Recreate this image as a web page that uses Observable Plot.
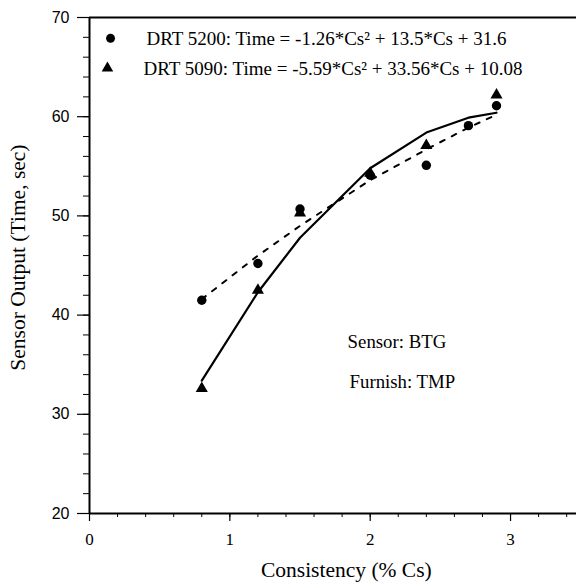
<!DOCTYPE html>
<html><head><meta charset="utf-8">
<script src="https://cdn.jsdelivr.net/npm/d3@7"></script>
<script src="https://cdn.jsdelivr.net/npm/@observablehq/plot@0.6"></script>
<style>body{margin:0;background:#fff}</style>
</head><body><div id="chart"></div>
<script>
const cs = [0.8, 1.2, 1.5, 2.0, 2.4, 2.7, 2.9];
const drt5200 = [41.5, 45.2, 50.7, 54.1, 55.1, 59.1, 61.1];
const drt5090 = [32.6, 42.5, 50.3, 54.3, 57.1, null, 62.2];
const fit5200 = [41.6, 46.0, 49.0, 53.6, 56.7, 58.9, 60.2];
const fit5090 = [33.4, 42.3, 47.8, 54.8, 58.4, 59.9, 60.4];
const legendLabels = ["DRT 5200: Time = -1.26*Cs² + 13.5*Cs + 31.6", "DRT 5090: Time = -5.59*Cs² + 33.56*Cs + 10.08"];
const notes = ["Sensor: BTG", "Furnish: TMP"];
const xTitle = "Consistency (% Cs)";
const yTitle = "Sensor Output (Time, sec)";
const xTicks = [0, 1, 2, 3];
const yTicks = [20, 30, 40, 50, 60, 70];

const pts5200 = cs.map((x, i) => ({x, y: drt5200[i]}));
const pts5090 = cs.map((x, i) => ({x, y: drt5090[i]})).filter(d => d.y != null);
const line5200 = cs.map((x, i) => ({x, y: fit5200[i]}));
const line5090 = cs.map((x, i) => ({x, y: fit5090[i]}));
const xMinor = d3.range(0, 3.5, 0.2);
const yMinor = d3.range(20, 71, 2);

const serif = "Liberation Serif, Times New Roman, serif";
const chart = Plot.plot({
  width: 576, height: 584,
  marginLeft: 89, marginRight: 0, marginTop: 17, marginBottom: 71,
  style: {fontFamily: serif, fontSize: "16px", color: "#000", background: "#fff"},
  x: {domain: [0, 3.47]},
  y: {domain: [20, 70]},
  marks: [
    Plot.axisX(xMinor, {tickSize: 4, text: null, label: null, strokeWidth: 1}),
    Plot.axisX(xTicks, {tickSize: 8, tickPadding: 11, fontSize: 17, fontFamily: serif, strokeWidth: 1.2, label: null, tickFormat: d3.format("d")}),
    Plot.axisY(yMinor, {tickSize: 6, text: null, label: null, strokeWidth: 1}),
    Plot.axisY(yTicks, {tickSize: 12, tickPadding: 8, fontSize: 16, fontFamily: "Liberation Sans, Arial, sans-serif", strokeWidth: 1.2, label: null}),
    Plot.ruleY([20, 70], {strokeWidth: 2}),
    Plot.ruleX([0], {strokeWidth: 2}),
    Plot.line(line5200, {x: "x", y: "y", strokeWidth: 2, strokeDasharray: "5,8"}),
    Plot.line(line5090, {x: "x", y: "y", strokeWidth: 2.2}),
    Plot.dot(pts5200, {x: "x", y: "y", symbol: "circle", r: 4.7, fill: "black"}),
    Plot.dot(pts5090, {x: "x", y: "y", symbol: "triangle", r: 4.5, fill: "black"}),
    Plot.dot([{x: 0.15, y: 67.9}], {x: "x", y: "y", symbol: "circle", r: 4.5, fill: "black"}),
    Plot.dot([{x: 0.128, y: 64.9}], {x: "x", y: "y", symbol: "triangle", r: 4.3, fill: "black"}),
    Plot.text([{x: 0.406, y: 67.8, t: legendLabels[0]}, {x: 0.385, y: 64.8, t: legendLabels[1]}],
      {x: "x", y: "y", text: "t", textAnchor: "start", fontSize: 19, fontFamily: serif, fill: "black"}),
    Plot.text([{x: 1.839, y: 37.3, t: notes[0]}, {x: 1.853, y: 33.3, t: notes[1]}],
      {x: "x", y: "y", text: "t", textAnchor: "start", fontSize: 18.8, fontFamily: serif, fill: "black"}),
    Plot.text([{x: 1.83, y: 20, t: xTitle}], {x: "x", y: "y", text: "t", dy: 57, fontSize: 21.5, fontFamily: serif, fill: "black"}),
    Plot.text([{x: 0, y: 45.8, t: yTitle}], {x: "x", y: "y", text: "t", rotate: -90, dx: -71, fontSize: 21.5, fontFamily: serif, fill: "black"})
  ]
});
document.getElementById("chart").appendChild(chart);
</script>
</body></html>
